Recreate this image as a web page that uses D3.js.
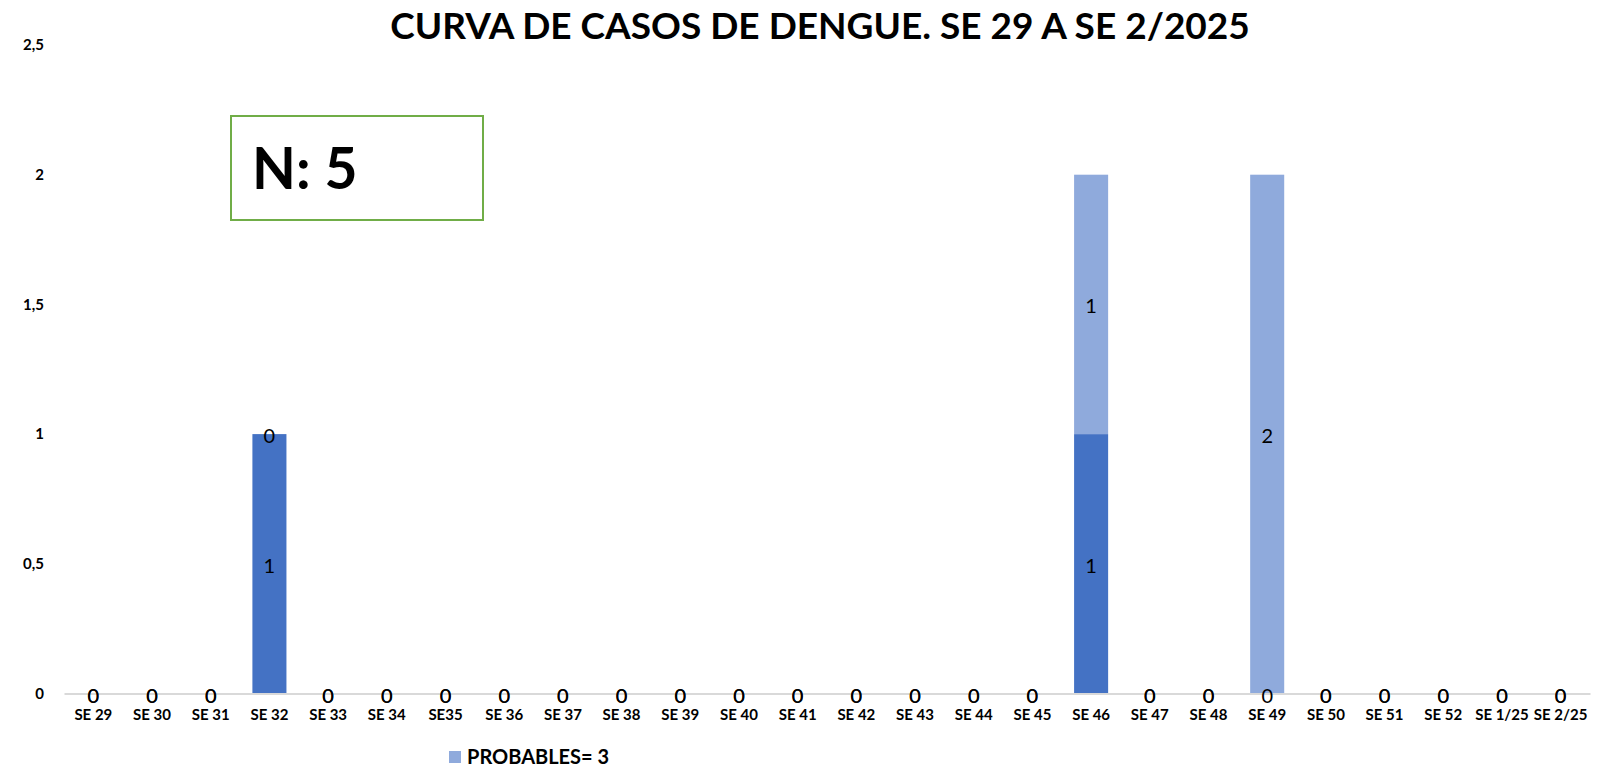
<!DOCTYPE html>
<html><head><meta charset="utf-8">
<script src="https://cdn.jsdelivr.net/npm/d3@7"></script>
<style>body{margin:0;background:#fff}svg{display:block}text{font-family:Lato,"Open Sans",sans-serif}</style>
</head><body>
<svg id="c" width="1611" height="768"></svg>
<script>
const categories = ["SE 29","SE 30","SE 31","SE 32","SE 33","SE 34","SE35","SE 36","SE 37","SE 38","SE 39","SE 40","SE 41","SE 42","SE 43","SE 44","SE 45","SE 46","SE 47","SE 48","SE 49","SE 50","SE 51","SE 52","SE 1/25","SE 2/25"];
const confirmados = [0,0,0,1,0,0,0,0,0,0,0,0,0,0,0,0,0,1,0,0,0,0,0,0,0,0];
const probables   = [0,0,0,0,0,0,0,0,0,0,0,0,0,0,0,0,0,1,0,0,2,0,0,0,0,0];
const yTicks = [0,0.5,1,1.5,2,2.5];
const yTickLabels = ["0","0,5","1","1,5","2","2,5"];
const seriesNames = ["CONFIRMADOS","PROBABLES= 3"];
const titleText = "CURVA DE CASOS DE DENGUE. SE 29 A SE 2/2025";
const nText = "N: 5";

const svg = d3.select("#c");
const colors = ["#4472C4","#8FAADC"];
const x = d3.scaleBand().domain(categories).range([64,1590]).paddingInner(0.42).paddingOuter(0.21);
const y = d3.scaleLinear().domain([0,2.5]).range([693.5,45]);

const rows = categories.map((c,i)=>({cat:c, conf:confirmados[i], prob:probables[i]}));
const stacked = d3.stack().keys(["conf","prob"])(rows);

// title
svg.append("text").attr("x",820).attr("y",39).attr("text-anchor","middle")
  .style("font-size","37px").style("font-weight","bold").text(titleText);

// y labels
svg.append("g").selectAll("text").data(yTicks).join("text")
  .attr("x",44).attr("y",d=>y(d)).attr("dy","0.35em").attr("text-anchor","end")
  .style("font-size","15px").style("font-weight","bold").text((d,i)=>yTickLabels[i]);

// bars
const g = svg.append("g");
stacked.forEach((s,si)=>{
  g.append("g").selectAll("rect").data(s).join("rect")
    .attr("x",d=>x(d.data.cat)).attr("width",x.bandwidth())
    .attr("y",d=>y(d[1])).attr("height",d=>y(d[0])-y(d[1]))
    .attr("fill",colors[si]);
});

// axis line
const ax = svg.append("g").attr("transform",`translate(0,${y(0)})`)
  .call(d3.axisBottom(x).tickSize(0).tickPadding(16));
ax.select(".domain").attr("stroke","#D9D9D9").attr("stroke-width",2);
ax.selectAll(".tick text").style("font-family","Lato, sans-serif").style("font-size","15px").style("font-weight","bold").attr("fill","#000");

// data labels
stacked.forEach((s,si)=>{
  svg.append("g").selectAll("text").data(s).join("text")
    .attr("x",d=>x(d.data.cat)+x.bandwidth()/2)
    .attr("y",d=>y((d[0]+d[1])/2)+2).attr("dy","0.35em").attr("text-anchor","middle")
    .style("font-size","20px").attr("fill","#000")
    .text(d=>d[1]-d[0]);
});

// N box
svg.append("rect").attr("x",231).attr("y",116).attr("width",252).attr("height",104)
  .attr("fill","#fff").attr("stroke","#70AD47").attr("stroke-width",2);
svg.append("text").attr("x",252).attr("y",189).style("font-size","57px").style("font-weight","bold").text(nText);

// legend
svg.append("rect").attr("x",449).attr("y",751).attr("width",12).attr("height",12).attr("fill",colors[1]);
svg.append("text").attr("x",467).attr("y",757).attr("dy","0.35em").style("font-size","20px").style("font-weight","bold").text(seriesNames[1]);
</script>
</body></html>
